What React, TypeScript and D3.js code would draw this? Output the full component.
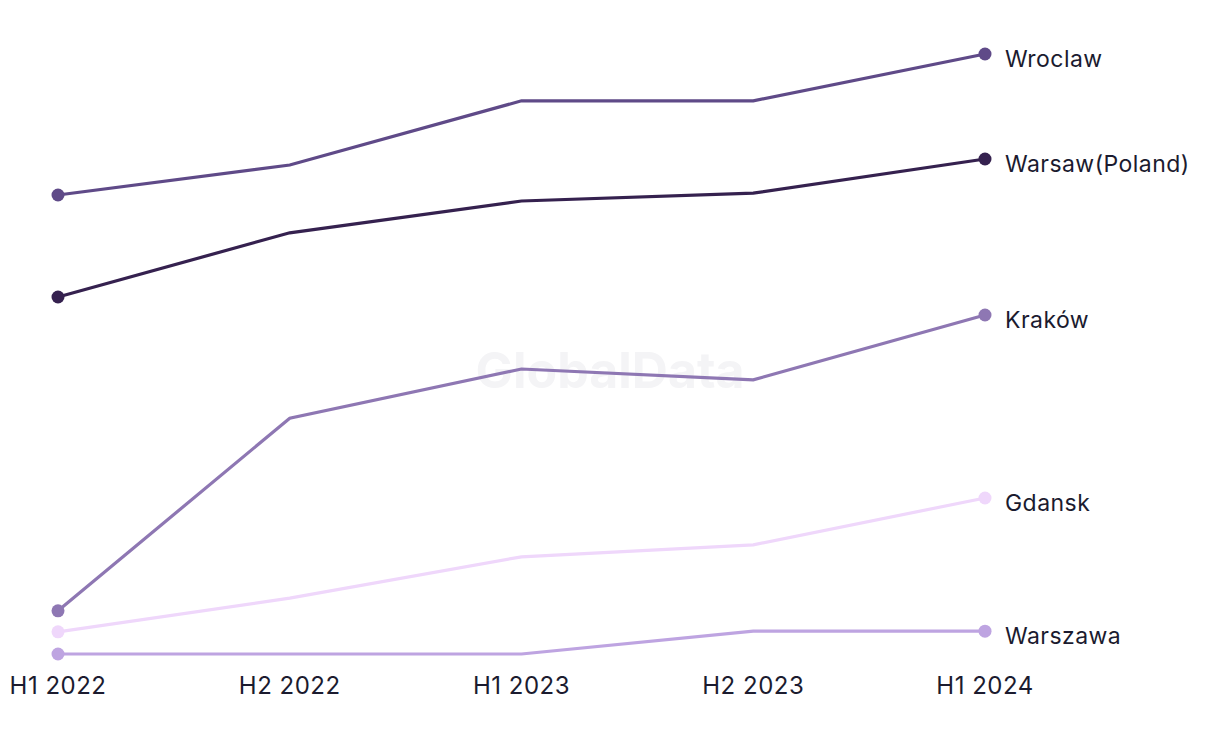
import React from "react";
import * as d3 from "d3";

const periods = ["H1 2022", "H2 2022", "H1 2023", "H2 2023", "H1 2024"];
const wroclaw = [76.5, 81.5, 92.2, 92.2, 100];
const warsawPoland = [59.5, 70.2, 75.5, 76.8, 82.5];
const krakow = [7.2, 39.3, 47.5, 45.7, 56.5];
const gdansk = [3.7, 9.3, 16.2, 18.2, 26];
const warszawa = [0, 0, 0, 3.8, 3.8];

const seriesNames = ["Wroclaw", "Warsaw(Poland)", "Kraków", "Gdansk", "Warszawa"];
const seriesColors = ["#5f4a88", "#35214f", "#8e77b3", "#efd7fb", "#bea4e1"];

export default function App() {
  const W = 1220, H = 744;
  const x = d3.scalePoint<string>().domain(periods).range([58, 985]);
  const y = d3.scaleLinear().domain([0, 100]).range([654, 54]);
  const line = d3.line<number>().x((_, i) => x(periods[i])!).y((d) => y(d));
  const all = [wroclaw, warsawPoland, krakow, gdansk, warszawa];
  const order = [3, 4, 2, 1, 0];
  const font = "Inter, 'Open Sans', sans-serif";
  return (
    <svg width={W} height={H} style={{ position: "absolute", left: 0, top: 0 }}>
      <rect width={W} height={H} fill="#fff" />
      <text x={610} y={388} textAnchor="middle" fontFamily={font} fontWeight={700} fontSize={50} fill="#f4f4f6">GlobalData</text>
      {order.map((k) => (
        <g key={k}>
          <path d={line(all[k])!} fill="none" stroke={seriesColors[k]} strokeWidth={3.2} />
          <circle cx={x(periods[0])} cy={y(all[k][0])} r={6.5} fill={seriesColors[k]} />
          <circle cx={x(periods[4])} cy={y(all[k][4])} r={6.5} fill={seriesColors[k]} />
        </g>
      ))}
      {all.map((s, k) => (
        <text key={k} x={1005} y={y(s[4]) + 13} fontFamily={font} fontSize={23} letterSpacing={0.45} fill="#1b1b2f">{seriesNames[k]}</text>
      ))}
      {periods.map((p) => (
        <text key={p} x={x(p)} y={694} textAnchor="middle" fontFamily={font} fontSize={24} letterSpacing={0.5} fill="#1b1b2f">{p}</text>
      ))}
    </svg>
  );
}
